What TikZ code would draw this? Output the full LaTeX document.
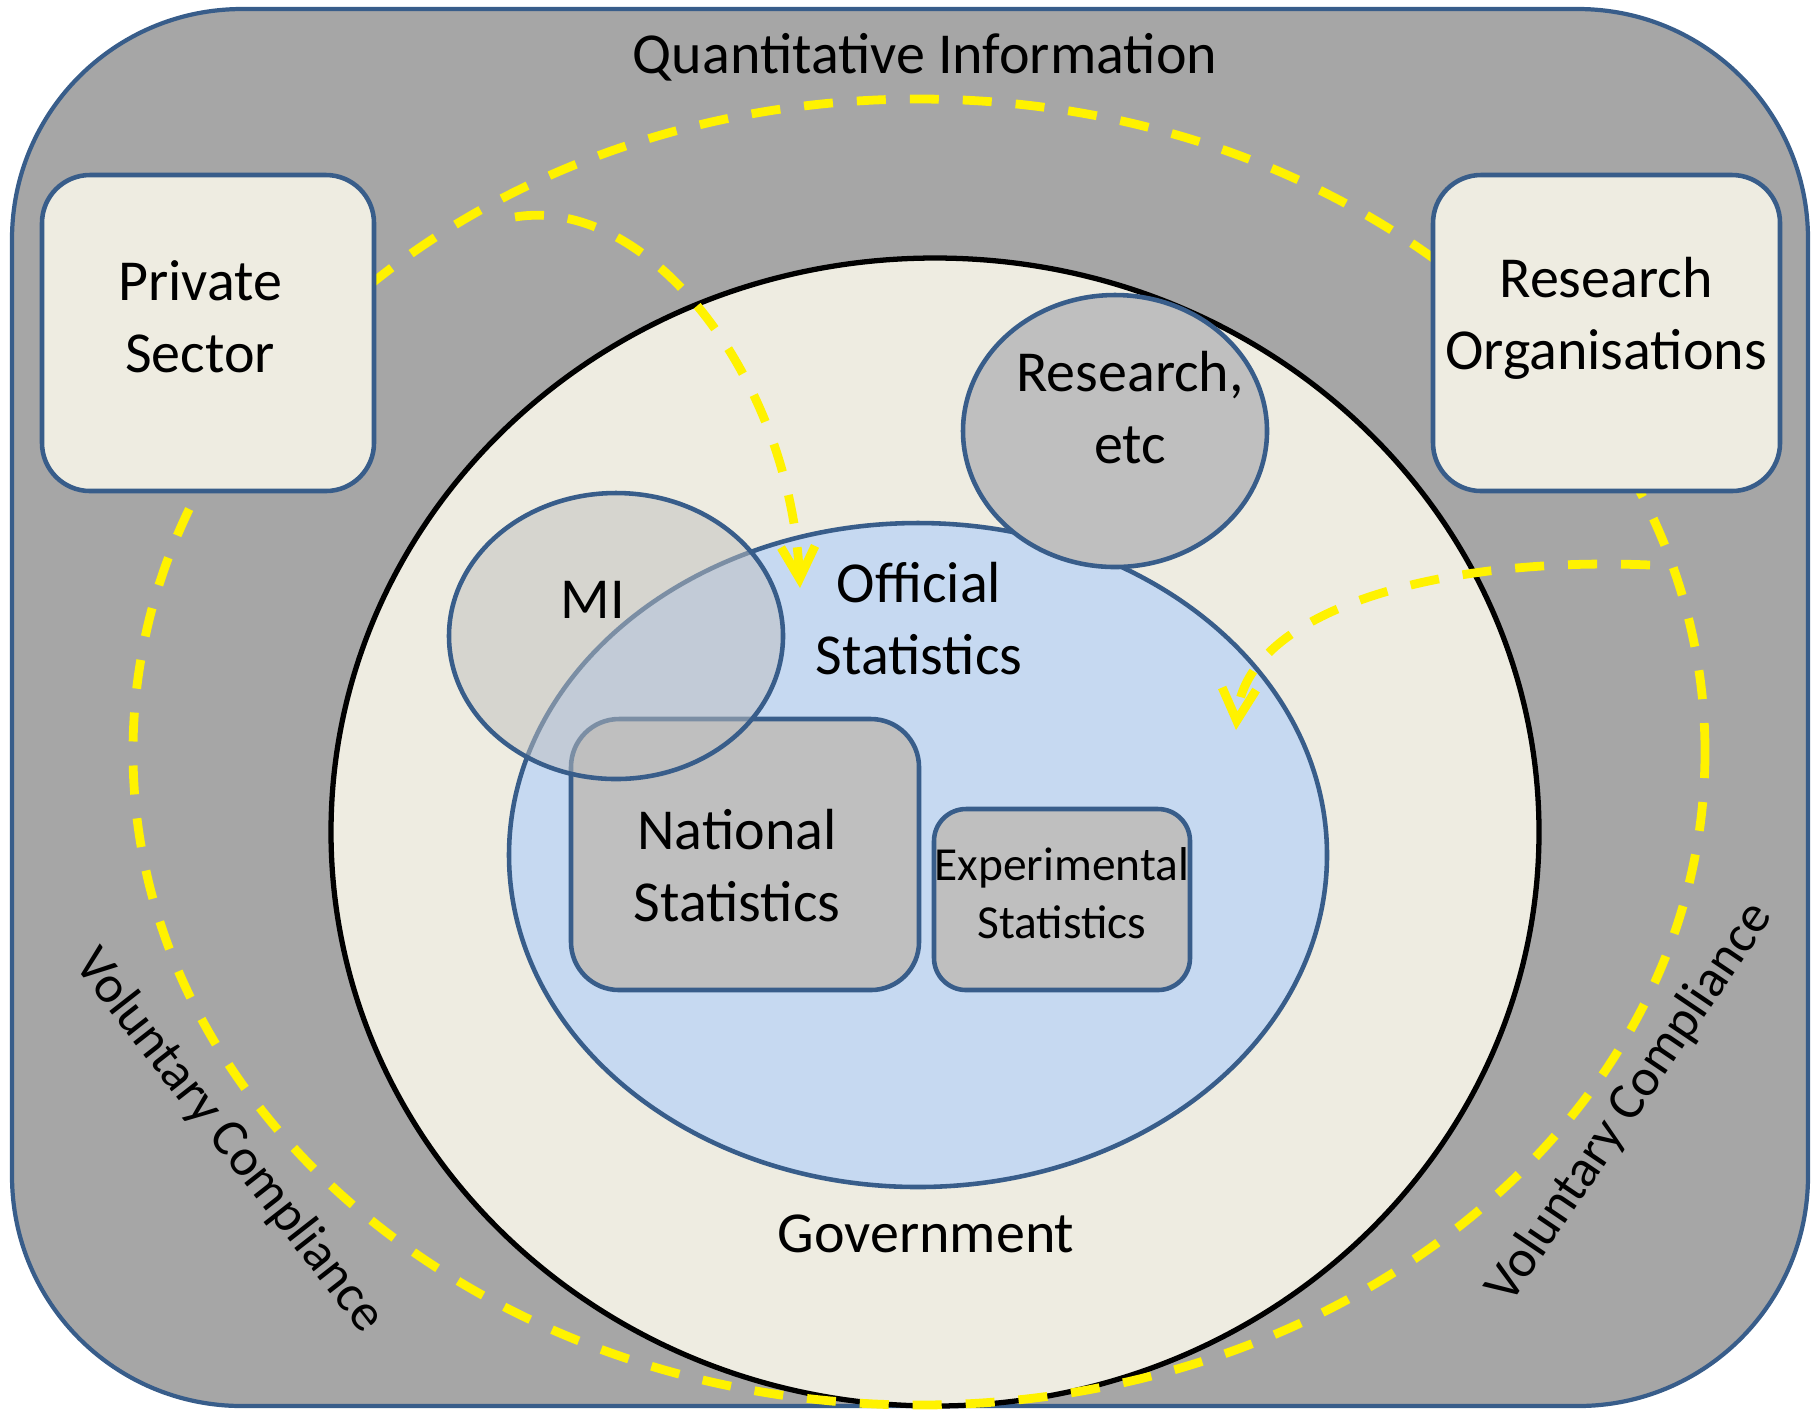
\documentclass[tikz,border=0pt]{standalone}
\usepackage{fontspec}
\setmainfont{Carlito}
\usetikzlibrary{shapes.geometric,arrows.meta}
\definecolor{frame}{HTML}{385D8A}
\definecolor{outergray}{HTML}{A6A6A6}
\definecolor{govbeige}{HTML}{EEECE1}
\definecolor{offblue}{HTML}{C6D9F1}
\definecolor{boxgray}{HTML}{BFBFBF}
\tikzset{
  blob/.style={ellipse, draw=frame, line width=1.3pt, inner sep=0pt},
  panel/.style={rectangle, rounded corners=4.8mm, draw=frame, line width=1.3pt, inner sep=0pt},
  lbl/.style={font=\fontsize{16.5}{20.5}\selectfont, align=center, inner sep=0pt},
  flow/.style={draw=yellow, line width=2.5pt, dash pattern=on 2.9mm off 2.4mm},
}
\begin{document}
\begin{tikzpicture}[x=0.1mm, y=-0.1mm]
  \useasboundingbox (0,0) rectangle (1812,1409);

  % shapes, back to front
  \node[panel, rounded corners=23mm, fill=outergray, line width=1.2pt, minimum width=179.6mm, minimum height=139.7mm] (qi) at (910,707.5) {};
  \node[ellipse, draw=black, line width=1.5pt, fill=govbeige, inner sep=0pt, minimum width=120.8mm, minimum height=114.8mm] (gov) at (935,832) {};
  \node[blob, fill=offblue, minimum width=81.8mm, minimum height=66.4mm] (off) at (918,855) {};
  \node[blob, fill=boxgray, minimum width=30.4mm, minimum height=27.2mm] (res) at (1115,431) {};
  \node[panel, fill=boxgray, minimum width=34.8mm, minimum height=27.1mm] (nat) at (745,854.5) {};
  \node[panel, rounded corners=3.2mm, fill=boxgray, minimum width=25.6mm, minimum height=18.1mm] (exp) at (1062,899.5) {};
  \node[blob, fill=boxgray, fill opacity=0.5, minimum width=33.4mm, minimum height=28.6mm] (mi) at (616,636) {};
  \node[ellipse, flow, inner sep=0pt, minimum width=157.2mm, minimum height=130.6mm] (loop) at (919,752) {};
  \node[panel, fill=govbeige, minimum width=33.2mm, minimum height=31.6mm] (priv) at (208,333) {};
  \node[panel, fill=govbeige, minimum width=34.7mm, minimum height=31.6mm] (rorg) at (1606.5,333) {};

  % data flows
  \coordinate (privout) at (515,217);
  \coordinate (rorgout) at (1650,565);
  \coordinate (offin1) at (800,588);
  \coordinate (offin2) at (1236,730);
  \draw[flow, -{Straight Barb[length=3.2mm,width=3.4mm]}] (privout) .. controls (650,195) and (790,380) .. (offin1);
  \draw[flow, -{Straight Barb[length=3.2mm,width=3.4mm]}] (rorgout) .. controls (1440,556) and (1245,610) .. (offin2);

  % labels
  \node[lbl] (qilbl) at (925,57) {Quantitative Information};
  \node[lbl] (privlbl) at (200,317) {Private\\Sector};
  \node[lbl] (rorglbl) at (1606,318) {Research\\Organisations};
  \node[lbl] (reslbl) at (1130,408) {Research,\\etc};
  \node[lbl] (milbl) at (593,600) {MI};
  \node[lbl] (offlbl) at (919,619) {Official\\Statistics};
  \node[lbl] (natlbl) at (737,866) {National\\Statistics};
  \node[lbl, font=\fontsize{13.5}{16.5}\selectfont] (explbl) at (1062,893) {Experimental\\Statistics};
  \node[lbl] (govlbl) at (926,1234) {Government};
  \node[lbl, font=\fontsize{15}{18}\selectfont, rotate=-52] (vcleft) at (229,1141) {Voluntary Compliance};
  \node[lbl, font=\fontsize{15}{18}\selectfont, rotate=56] (vcright) at (1630,1103) {Voluntary Compliance};
\end{tikzpicture}
\end{document}
